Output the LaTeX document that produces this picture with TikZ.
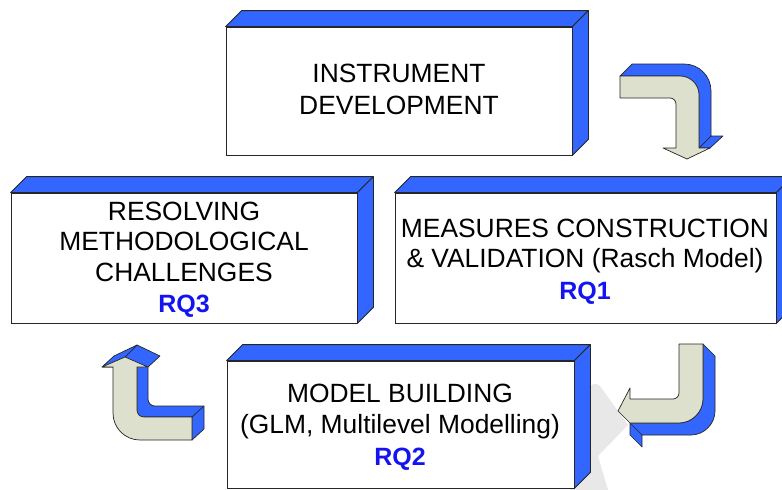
\documentclass[tikz,border=0pt]{standalone}
\usepackage{fontspec}
\setmainfont{Liberation Sans}
\usetikzlibrary{calc}
\definecolor{boxblue}{RGB}{51,102,255}
\definecolor{beige}{RGB}{221,224,204}
\definecolor{rqblue}{RGB}{20,20,240}
\definecolor{shadowgray}{RGB}{232,232,232}
\tikzset{
  frontbox/.style={draw=black!85, line width=0.8pt, fill=white, inner sep=0pt},
  sideface/.style={fill=boxblue, draw=black!85, line width=0.8pt, line join=round},
  arrowback/.style={fill=boxblue, draw=black!85, line width=0.7pt, line join=round},
  arrowfront/.style={fill=beige, draw=black!85, line width=0.7pt, line join=round},
  edgeline/.style={draw=black!85, line width=0.7pt},
  maintext/.style={anchor=base, font=\fontsize{26.4}{31}\selectfont, inner sep=0pt},
  rqtext/.style={anchor=base, font=\fontsize{25}{29}\selectfont\bfseries, text=rqblue, inner sep=0pt}
}
\begin{document}
\begin{tikzpicture}[x=1pt,y=-1pt]
\clip (0,0) rectangle (782,490);
\fill[white] (0,0) rectangle (782,490);

% shadow behind model building box
\fill[shadowgray] (588,390) .. controls (590,384) and (596,382) .. (600,386) -- (628,425) -- (598,456) -- (608,490) -- (570,490) -- cycle;

% boxes
\node[frontbox, minimum width=346, minimum height=128] (b1) at (399,91) {};
\node[frontbox, minimum width=346, minimum height=130] (b2) at (184,258) {};
\node[frontbox, minimum width=381, minimum height=130] (b3) at (585.5,258) {};
\node[frontbox, minimum width=347, minimum height=127] (b4) at (400.5,424.5) {};

\foreach \b in {b1,b2,b3,b4}{
  \filldraw[sideface] (\b.north west) -- ++(16,-16) -- ($(\b.north east)+(16,-16)$) -- (\b.north east) -- cycle;
  \filldraw[sideface] (\b.north east) -- ++(16,-16) -- ($(\b.south east)+(16,-16)$) -- (\b.south east) -- cycle;
}

% texts
\node[maintext] (t1a) at (399,82) {INSTRUMENT};
\node[maintext] (t1b) at (399,114) {DEVELOPMENT};

\node[maintext] (t2a) at (184,220) {RESOLVING};
\node[maintext] (t2b) at (184,250) {METHODOLOGICAL};
\node[maintext] (t2c) at (184,281) {CHALLENGES};
\node[rqtext] (t2d) at (184,312) {RQ3};

\node[maintext] (t3a) at (585,237) {MEASURES CONSTRUCTION};
\node[maintext] (t3b) at (585,267) {\& VALIDATION (Rasch Model)};
\node[rqtext] (t3c) at (585,299) {RQ1};

\node[maintext] (t4a) at (400,402) {MODEL BUILDING};
\node[maintext] (t4b) at (400,433) {(GLM, Multilevel Modelling)};
\node[rqtext] (t4c) at (400,465) {RQ2};

% arrow 1 (top right)
\filldraw[arrowback] (620,76) -- (632,64) -- (684,64) .. controls (699,64) and (711,76) .. (711,91) -- (711,136) -- (723,136) -- (710,148) -- (699,148) -- (699,95) .. controls (699,85) and (690,76) .. (680,76) -- cycle;
\draw[edgeline] (699,148) -- (711,136);
\filldraw[arrowfront] (620,76) -- (680,76) .. controls (690.5,76) and (699,84.5) .. (699,95) -- (699,148) -- (710,148) -- (687,159) -- (663,148) -- (676,148) -- (676,104) .. controls (676,100.7) and (673.3,98) .. (670,98) -- (620,98) -- cycle;

% arrow 2 (bottom right)
\filldraw[arrowback] (703,344) -- (715,356) -- (715,411) .. controls (715,424) and (704,435) .. (691,435) -- (642,435) -- (642,447) -- (630,435) -- (630,423) -- (679,423) .. controls (692,423) and (703,412) .. (703,399) -- cycle;
\draw[edgeline] (630,423) -- (642,435);
\filldraw[arrowfront] (679,344) -- (703,344) -- (703,399) .. controls (703,412) and (692,423) .. (679,423) -- (630,423) -- (618,411) -- (630,388) -- (630,399) -- (673,399) .. controls (676.3,399) and (679,396.3) .. (679,393) -- cycle;

% arrow 3 (bottom left)
\filldraw[arrowback] (102,367) -- (114,356) -- (137,345) -- (160,356) -- (148,367) -- (148,399) .. controls (148,403) and (151,406) .. (155,406) -- (204,406) -- (204,429) -- (192,440) -- (192,417) -- (137,417) -- (137,367) -- cycle;
\draw[edgeline] (125,357) -- (137,345);
\filldraw[arrowfront] (102,367) -- (125,357) -- (148,367) -- (137,367) -- (137,410) .. controls (137,414) and (140,417) .. (144,417) -- (192,417) -- (192,440) -- (140,440) .. controls (125,440) and (113,428) .. (113,413) -- (113,367) -- cycle;
\draw[edgeline] (192,417) -- (204,406);
\end{tikzpicture}
\end{document}
